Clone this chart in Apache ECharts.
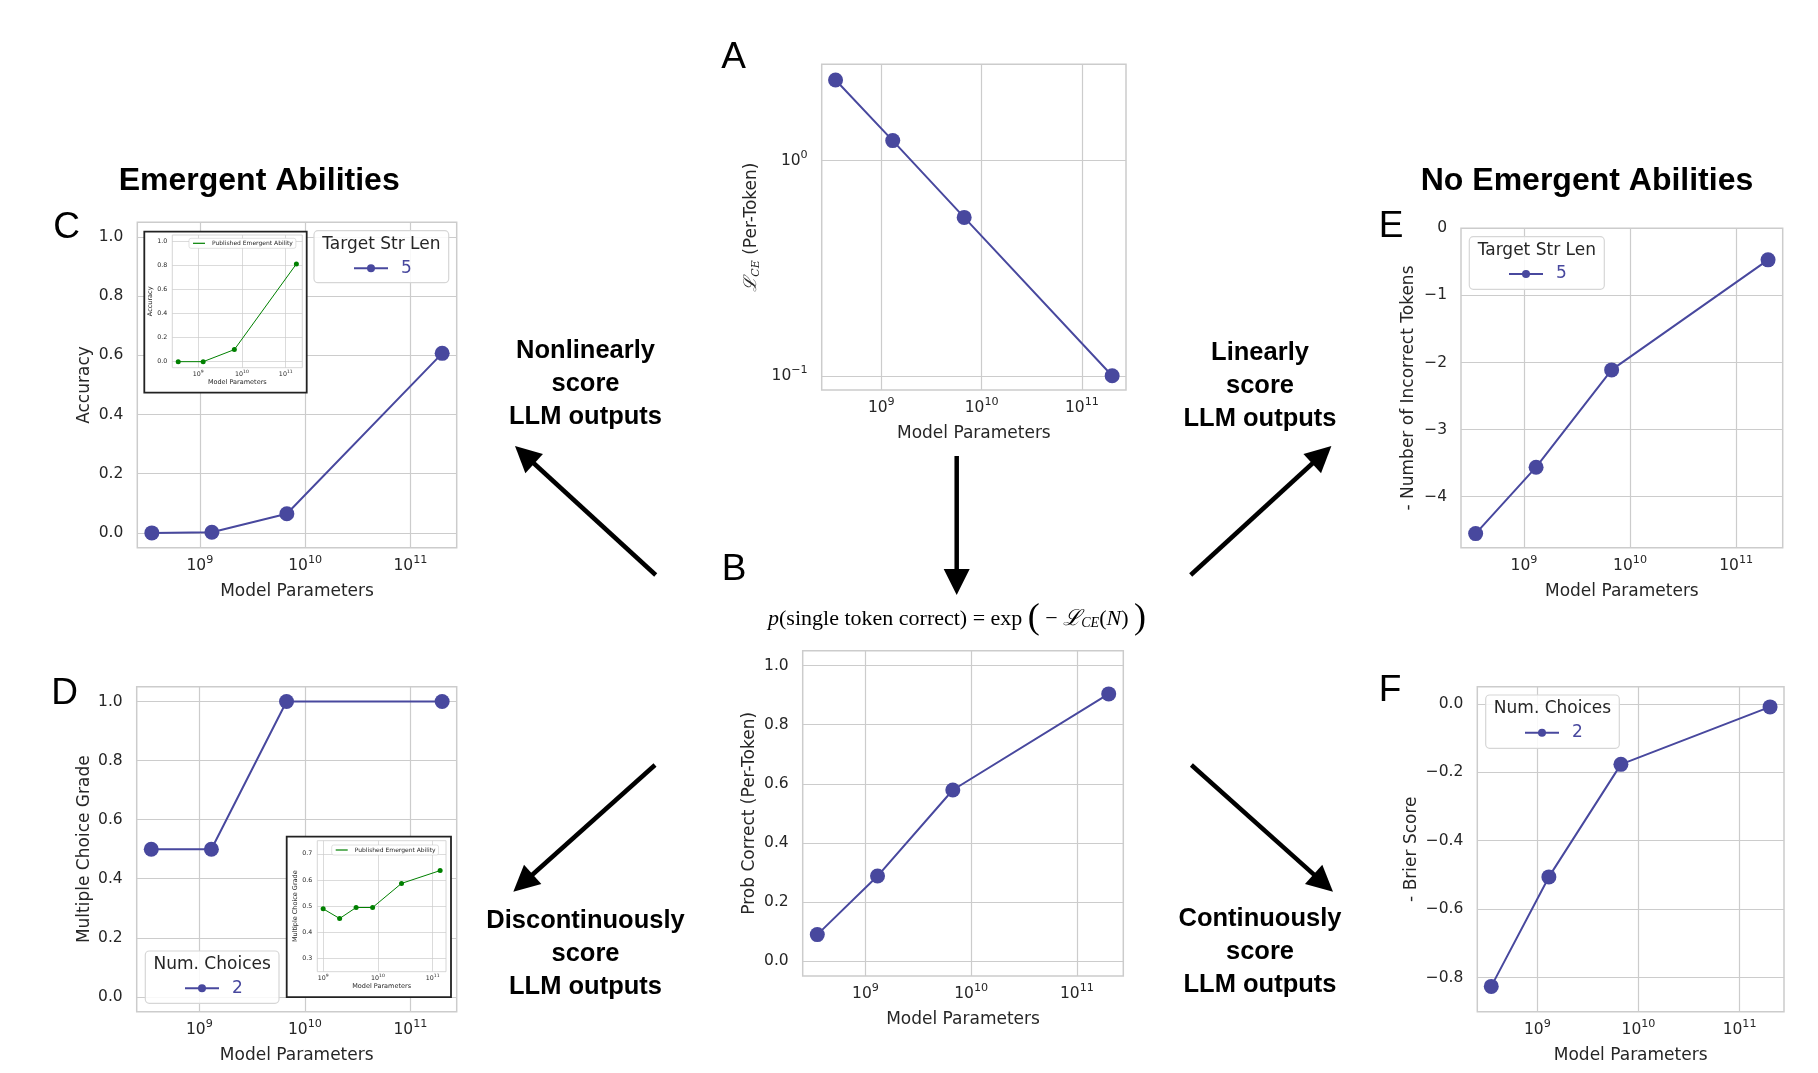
<!DOCTYPE html>
<html>
<head>
<meta charset="utf-8">
<title>Emergent abilities vs. metric choice</title>
<script src="https://cdn.jsdelivr.net/npm/echarts@6/dist/echarts.min.js"></script>
<style>
  html, body { margin: 0; padding: 0; background: #fff; }
  #chart { width: 1818px; height: 1073px; }
</style>
</head>
<body>
<div id="chart"></div>
<script>
// ---- data ----
const params = [3.5e8, 1.3e9, 6.7e9, 2.0e11];           // model parameters
const lossCE = [2.37, 1.24, 0.545, 0.1];                 // A: per-token CE loss
const probCorrect = [0.09, 0.288, 0.579, 0.904];         // B
const accuracy = [0, 0.002, 0.065, 0.607];               // C
const mcGrade = [0.5, 0.5, 1.0, 1.0];                    // D
const negIncorrect = [-4.55, -3.56, -2.11, -0.47];       // E
const negBrier = [-0.826, -0.506, -0.177, -0.009];       // F

const insetAccParams = [3.5e8, 1.3e9, 6.7e9, 1.75e11];
const insetAcc = [0, 0, 0.1, 0.81];
const insetMcParams = [1e9, 2e9, 4e9, 8e9, 2.7e10, 1.37e11];
const insetMc = [0.49, 0.453, 0.495, 0.495, 0.587, 0.636];

const xTicks = [1e9, 1e10, 1e11];
const lossTicks = [0.1, 1];
const unitTicks = [0, 0.2, 0.4, 0.6, 0.8, 1.0];
const tokenTicks = [-4, -3, -2, -1, 0];
const brierTicks = [-0.8, -0.6, -0.4, -0.2, 0];
const insetMcTicks = [0.3, 0.4, 0.5, 0.6, 0.7];

// ---- styling ----
const LINE = '#48489e';
const GREEN = '#008000';
const GRIDC = '#cccccc';
const INK = '#262626';
const SANS = 'DejaVu Sans';
const ARIAL = 'Liberation Sans';

function powLabel(v) {
  const e = Math.round(Math.log10(v));
  return '10{s|' + (e < 0 ? '\u2212' + (-e) : e) + '}';
}
function fixed(d) {
  return v => (v < -1e-9 ? '\u2212' : '') + Math.abs(v).toFixed(d);
}
function supRich(size) {
  return { s: { fontSize: size * 0.72, fontFamily: SANS, color: INK, padding: [0, 0, size * 0.75, 0] } };
}

const grids = [], xAxes = [], yAxes = [], series = [];

function addPanel(p) {
  const k = grids.length;
  const ins = !!p.inset;
  const tick = ins ? 6.3 : 15.5;
  const lab = ins ? 6.5 : 17;
  grids.push({
    left: p.box[0], top: p.box[1], width: p.box[2], height: p.box[3],
    show: true, borderColor: GRIDC, borderWidth: ins ? 0.8 : 1.5,
    z: ins ? 6 : 0, outerBoundsMode: 'none'
  });
  xAxes.push({
    type: 'log', gridIndex: k, min: Math.pow(10, p.xr[0]), max: Math.pow(10, p.xr[1]), z: ins ? 6 : 0,
    axisLine: { show: false },
    axisTick: { show: false, customValues: xTicks },
    axisLabel: { customValues: xTicks, formatter: powLabel, fontSize: tick, fontFamily: SANS, color: INK,
      margin: ins ? 2 : 7, rich: supRich(tick) },
    splitLine: { show: true, lineStyle: { color: GRIDC, width: ins ? 0.7 : 1.2 } },
    name: 'Model Parameters', nameLocation: 'middle', nameGap: ins ? 11 : 35,
    nameTextStyle: { fontSize: lab, fontFamily: SANS, color: INK }
  });
  yAxes.push({
    type: p.yLog ? 'log' : 'value', gridIndex: k, min: p.yr[0], max: p.yr[1], z: ins ? 6 : 0,
    axisLine: { show: false },
    axisTick: { show: false, customValues: p.yTicks },
    axisLabel: { customValues: p.yTicks, formatter: p.yFmt, fontSize: tick, fontFamily: SANS, color: INK,
      margin: ins ? 5 : 14, rich: supRich(tick) },
    splitLine: { show: true, lineStyle: { color: GRIDC, width: ins ? 0.7 : 1.2 } },
    name: p.yName, nameLocation: 'middle', nameGap: p.yGap,
    nameTextStyle: {
      fontSize: lab, fontFamily: SANS, color: INK,
      rich: {
        l: { fontSize: lab + 1, fontFamily: 'DejaVu Serif', fontStyle: 'italic', color: INK },
        s: { fontSize: 11, fontFamily: 'DejaVu Serif', fontStyle: 'italic', color: INK, padding: [9, 0, 0, 0] }
      }
    }
  });
  const col = ins ? GREEN : LINE;
  series.push({
    type: 'line', name: p.name, xAxisIndex: k, yAxisIndex: k,
    data: p.xs.map((x, i) => [x, p.ys[i]]),
    symbol: 'circle', symbolSize: ins ? 5 : 15, showSymbol: true,
    lineStyle: { color: col, width: ins ? 1 : 2 },
    itemStyle: { color: col },
    z: ins ? 7 : 3, silent: true
  });
}

const X_MAIN = [8.406, 11.439];
addPanel({ name: 'A', box: [821.7, 64.3, 304.3, 325.7], xr: X_MAIN, xs: params, ys: lossCE,
  yLog: true, yr: [Math.pow(10, -1.066), Math.pow(10, 0.448)], yTicks: lossTicks, yFmt: powLabel,
  yName: '{l|ℒ}{s|CE} (Per-Token)', yGap: 60 });
addPanel({ name: 'B', box: [802.7, 650.7, 320.6, 325.3], xr: X_MAIN, xs: params, ys: probCorrect,
  yr: [-0.05, 1.05], yTicks: unitTicks, yFmt: fixed(1), yName: 'Prob Correct (Per-Token)', yGap: 45 });
addPanel({ name: '5', box: [137.3, 222.3, 319.4, 325.4], xr: X_MAIN, xs: params, ys: accuracy,
  yr: [-0.05, 1.05], yTicks: unitTicks, yFmt: fixed(1), yName: 'Accuracy', yGap: 44 });
addPanel({ name: '2', box: [136.7, 686.7, 320, 325], xr: X_MAIN, xs: params, ys: mcGrade,
  yr: [-0.05, 1.05], yTicks: unitTicks, yFmt: fixed(1), yName: 'Multiple Choice Grade', yGap: 44 });
addPanel({ name: '5', box: [1461, 228.3, 321.7, 319.4], xr: X_MAIN, xs: params, ys: negIncorrect,
  yr: [-4.76, 0], yTicks: tokenTicks, yFmt: fixed(0), yName: '- Number of Incorrect Tokens', yGap: 44 });
addPanel({ name: '2', box: [1477.3, 686.7, 306.7, 325], xr: X_MAIN, xs: params, ys: negBrier,
  yr: [-0.9, 0.05], yTicks: brierTicks, yFmt: fixed(1), yName: '- Brier Score', yGap: 57 });
addPanel({ name: 'Published Emergent Ability', inset: true, box: [172.3, 235, 130, 132.7], xr: [8.409, 11.378],
  xs: insetAccParams, ys: insetAcc, yr: [-0.05, 1.05], yTicks: unitTicks, yFmt: fixed(1), yName: 'Accuracy', yGap: 15 });
addPanel({ name: 'Published Emergent Ability', inset: true, box: [317.3, 840.7, 128.7, 131], xr: [8.893, 11.244],
  xs: insetMcParams, ys: insetMc, yr: [0.25, 0.75], yTicks: insetMcTicks, yFmt: fixed(1), yName: 'Multiple Choice Grade', yGap: 17 });

// ---- legends ----
function mainLegend(name, left, cy) {
  return {
    data: [name], left: left, top: cy - 9, padding: 0, itemGap: 0, itemWidth: 34, itemHeight: 10,
    selectedMode: false, z: 4,
    textStyle: { fontSize: 17, fontFamily: SANS, color: LINE, lineHeight: 18, padding: [0, 0, 0, 8] }
  };
}
function insetLegend(left, top) {
  return {
    data: [{ name: 'Published Emergent Ability', icon: 'rect' }], left: left, top: top,
    padding: [2, 3, 2, 4], itemWidth: 12, itemHeight: 1.2, selectedMode: false, z: 8,
    backgroundColor: '#fff', borderColor: '#cccccc', borderWidth: 0.6, borderRadius: 2,
    textStyle: { fontSize: 6, fontFamily: SANS, color: INK, padding: [0, 0, 0, 2] }
  };
}
const legends = [
  mainLegend('5', 353, 268.3),
  mainLegend('2', 184, 988.3),
  mainLegend('5', 1508, 274),
  mainLegend('2', 1524, 732.7),
  insetLegend(189, 238.3),
  insetLegend(331.7, 845)
];

// ---- decorations ----
const g = [];
function text(x, y, str, size, family, weight, extra) {
  g.push(Object.assign({
    type: 'text', x: x, y: y, z: 10, silent: true,
    style: Object.assign({ text: str, fontSize: size, fontFamily: family, fontWeight: weight || 'normal',
      fill: '#000', align: 'center', verticalAlign: 'middle' }, extra || {})
  }));
}
function arrow(x1, y1, x2, y2) {
  const dx = x2 - x1, dy = y2 - y1, len = Math.hypot(dx, dy);
  const ux = dx / len, uy = dy / len, L = 26, W = 26;
  const bx = x2 - ux * L, by = y2 - uy * L;
  g.push({ type: 'line', z: 10, silent: true, shape: { x1: x1, y1: y1, x2: bx + ux * 2, y2: by + uy * 2 },
    style: { stroke: '#000', lineWidth: 4.5 } });
  g.push({ type: 'polygon', z: 10, silent: true,
    shape: { points: [[x2, y2], [bx - uy * W / 2, by + ux * W / 2], [bx + uy * W / 2, by - ux * W / 2]] },
    style: { fill: '#000' } });
}
function legendBox(x, y, w, h, title) {
  g.push({ type: 'rect', z: 3, silent: true, shape: { x: x, y: y, width: w, height: h, r: 4 },
    style: { fill: 'rgba(255,255,255,0.85)', stroke: '#d6d6d6', lineWidth: 1.2 } });
  text(x + w / 2, y + 14, title, 17, SANS, 'normal', { fill: INK });
}
function insetBox(x, y, w, h) {
  g.push({ type: 'rect', z: 5, silent: true, shape: { x: x, y: y, width: w, height: h },
    style: { fill: '#fff', stroke: '#222', lineWidth: 1.8 } });
}

insetBox(144.3, 231.7, 162.4, 161);
insetBox(286.7, 836.7, 164.3, 160.5);

legendBox(314, 230.7, 134.7, 52, 'Target Str Len');
legendBox(145.3, 951, 133.7, 52.3, 'Num. Choices');
legendBox(1469.3, 236.7, 135, 52.6, 'Target Str Len');
legendBox(1485.7, 695, 133.6, 53.3, 'Num. Choices');

// panel letters
text(733.7, 57.8, 'A', 37, ARIAL);
text(734, 570, 'B', 37, ARIAL);
text(66.7, 228, 'C', 37, ARIAL);
text(64.5, 694, 'D', 37, ARIAL);
text(1391, 226.7, 'E', 37, ARIAL);
text(1390, 691, 'F', 37, ARIAL);

// headings
text(259.2, 181, 'Emergent Abilities', 32, ARIAL, 'bold');
text(1587, 181, 'No Emergent Abilities', 32, ARIAL, 'bold');

// captions near the arrows
const cap = { lineHeight: 33 };
text(585.5, 383.6, 'Nonlinearly\nscore\nLLM outputs', 25.5, ARIAL, 'bold', cap);
text(1260, 386, 'Linearly\nscore\nLLM outputs', 25.5, ARIAL, 'bold', cap);
text(585.5, 954, 'Discontinuously\nscore\nLLM outputs', 25.5, ARIAL, 'bold', cap);
text(1260, 952, 'Continuously\nscore\nLLM outputs', 25.5, ARIAL, 'bold', cap);

arrow(655.7, 575, 515, 446);
arrow(1190.7, 575, 1331.4, 446);
arrow(956.7, 456, 956.7, 595);
arrow(655, 765, 513.3, 891.7);
arrow(1191.4, 765, 1333, 891.7);

// formula above panel B
g.push({
  type: 'text', x: 957, y: 619, z: 10, silent: true,
  style: {
    text: '{i|p}(single token correct) = exp {b|(} − {l|ℒ}{s|CE}({i|N}) {b|)}',
    fontSize: 22, fontFamily: 'Liberation Serif', fill: '#000', align: 'center', verticalAlign: 'middle',
    rich: {
      i: { fontSize: 22, fontFamily: 'Liberation Serif', fontStyle: 'italic' },
      b: { fontSize: 36, fontFamily: 'Liberation Serif' },
      l: { fontSize: 22, fontFamily: 'DejaVu Serif', fontStyle: 'italic' },
      s: { fontSize: 14, fontFamily: 'Liberation Serif', fontStyle: 'italic', padding: [9, 0, 0, 0] }
    }
  }
});

const chart = echarts.init(document.getElementById('chart'));
chart.setOption({
  animation: false,
  backgroundColor: '#fff',
  grid: grids,
  xAxis: xAxes,
  yAxis: yAxes,
  legend: legends,
  series: series,
  graphic: { elements: g }
});
</script>
</body>
</html>
